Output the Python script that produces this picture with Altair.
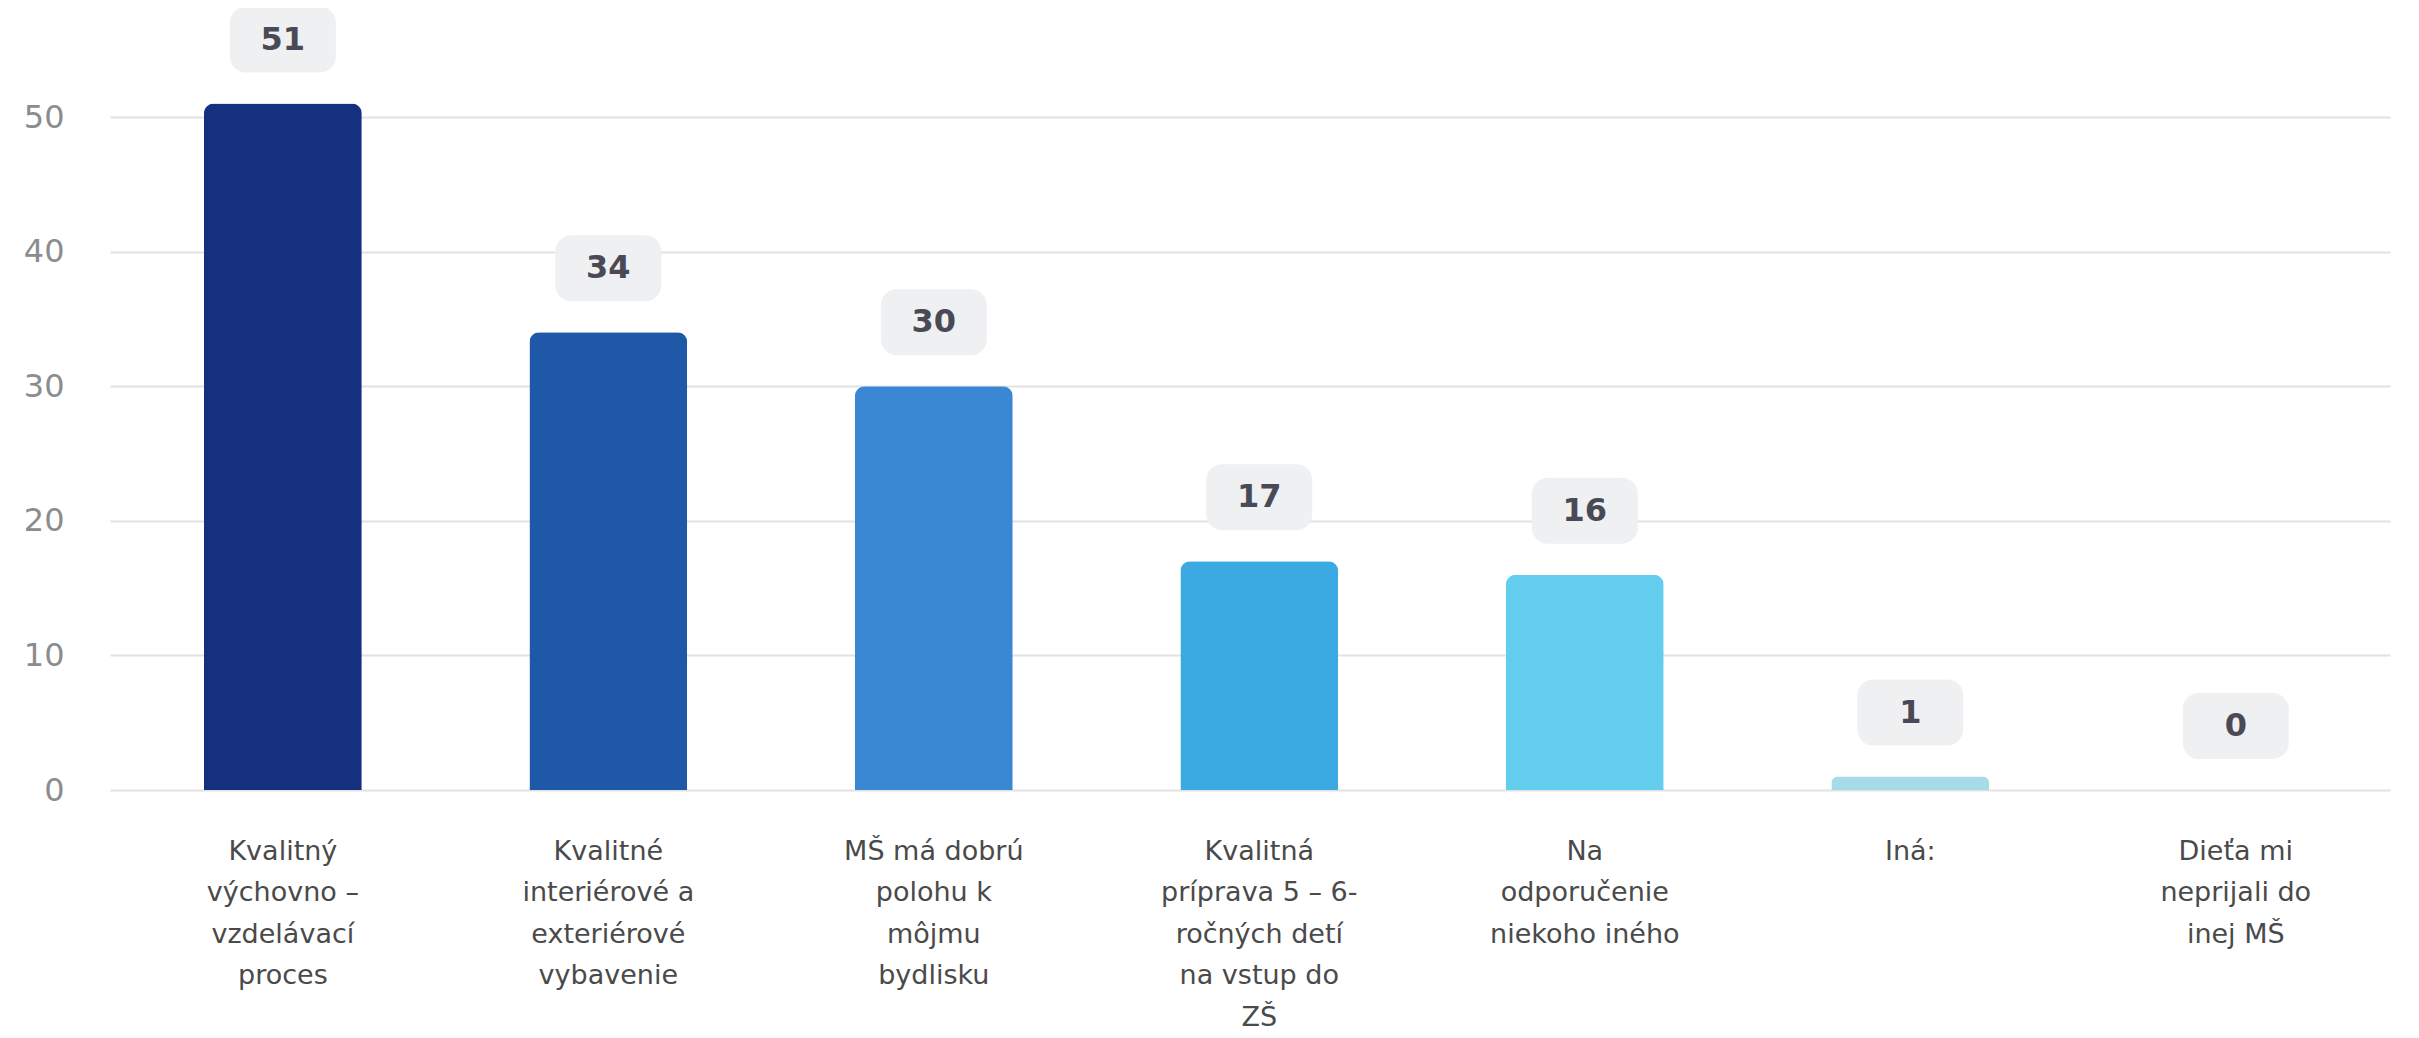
import altair as alt
import pandas as pd

categories = [
    "Kvalitný\nvýchovno –\nvzdelávací\nproces",
    "Kvalitné\ninteriérové a\nexteriérové\nvybavenie",
    "MŠ má dobrú\npolohu k\nmôjmu\nbydlisku",
    "Kvalitná\npríprava 5 – 6-\nročných detí\nna vstup do\nZŠ",
    "Na\nodporučenie\nniekoho iného",
    "Iná:",
    "Dieťa mi\nneprijali do\ninej MŠ",
]
values = [51, 34, 30, 17, 16, 1, 0]
colors = ["#14307F", "#2058A8", "#3A88D4", "#3BAAE3", "#62CDED", "#A6DCEA", "#C9ECF4"]
y_ticks = [0, 10, 20, 30, 40, 50]

df = pd.DataFrame({"cat": categories, "val": values})

FONT = "DejaVu Sans"

x_enc = alt.X(
    "cat:N",
    sort=categories,
    title=None,
    scale=alt.Scale(paddingInner=0.515, paddingOuter=0.26, align=0.555),
    axis=alt.Axis(
        labelAngle=0,
        labelExpr="split(datum.value, '\\n')",
        labelFont=FONT,
        labelFontSize=27,
        labelLineHeight=41.6,
        labelColor="#4a4a4a",
        labelPadding=48,
        labelLimit=0,
        labelBaseline="top",
        ticks=False,
        tickSize=0,
        domain=False,
        grid=False,
    ),
)

y_scale = alt.Scale(domain=[0, 50], nice=False, zero=True)

bars = alt.Chart(df).mark_bar(
    cornerRadiusTopLeft=10, cornerRadiusTopRight=10
).encode(
    x=x_enc,
    y=alt.Y(
        "val:Q",
        scale=y_scale,
        title=None,
        axis=alt.Axis(
            values=y_ticks,
            labelFont=FONT,
            labelFontSize=32,
            labelColor="#8c8c8c",
            labelPadding=46,
            ticks=False,
            tickSize=0,
            domain=False,
            grid=True,
            gridColor="#e2e2e2",
            gridWidth=2,
        ),
    ),
    color=alt.Color(
        "cat:N",
        sort=categories,
        scale=alt.Scale(domain=categories, range=colors),
        legend=None,
    ),
)

badges = alt.Chart(df).mark_bar(
    width=106, cornerRadius=16, color="#EFF0F2", yOffset=-97, y2Offset=-31
).encode(
    x=alt.X("cat:N", sort=categories),
    y=alt.Y("val:Q", scale=y_scale),
    y2=alt.Y2("val:Q"),
)

labels = alt.Chart(df).mark_text(
    dy=-64, font=FONT, fontSize=32, fontWeight="bold", color="#4a4a57", baseline="middle"
).encode(
    x=alt.X("cat:N", sort=categories),
    y=alt.Y("val:Q", scale=y_scale),
    text=alt.Text("val:Q"),
)

chart = alt.layer(bars, badges, labels).properties(
    width=2280,
    height=673,
    autosize=alt.AutoSizeParams(type="none"),
    padding={"left": 102, "top": 109, "right": 21, "bottom": 248},
).configure(background="white").configure_view(stroke=None)

chart.save("out.html", embed_options={"renderer": "svg", "actions": False})
